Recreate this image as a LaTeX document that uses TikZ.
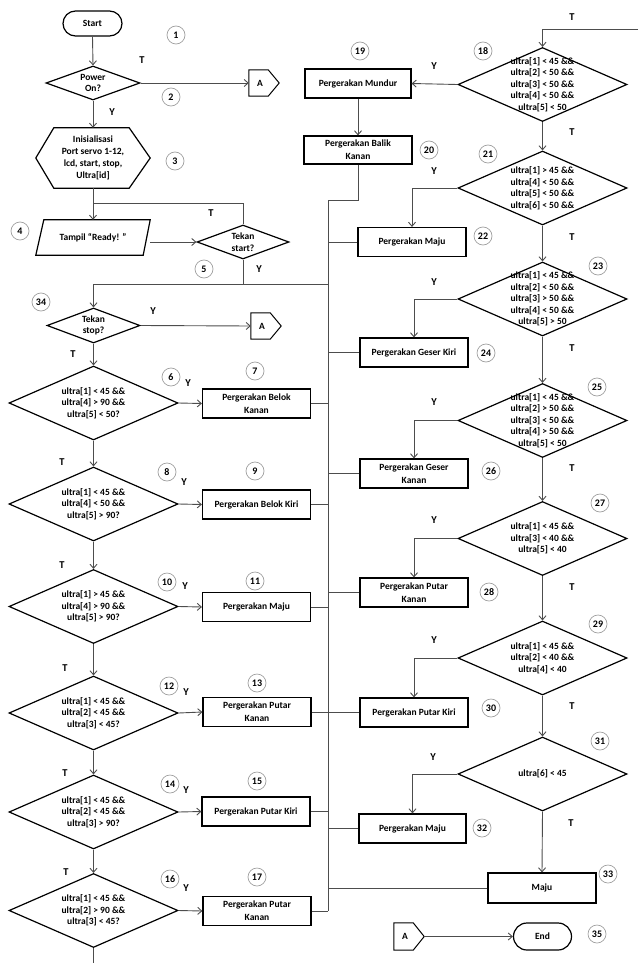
\documentclass[tikz,border=0pt]{standalone}
\usepackage{fontspec}
\setmainfont{Carlito}
\usetikzlibrary{arrows.meta,shapes.geometric}

\definecolor{wire}{HTML}{4D4D4D}
\definecolor{ringgray}{HTML}{A0A0A0}

\tikzset{
  txtbase/.style={font=\fontsize{9.5}{11.5}\selectfont\bfseries},
  edgeline/.style={draw=black, line width=1.2pt},
  box/.style={edgeline, minimum width=108pt, minimum height=29pt, inner sep=1pt,
    align=center, font=\fontsize{9.5}{13}\selectfont\bfseries},
  term/.style={txtbase, edgeline, rounded corners=12.5pt, minimum width=59pt,
    minimum height=25pt, inner sep=0pt},
  cond/.style={edgeline, diamond, minimum width=169pt, minimum height=74pt, inner sep=0pt},
  small cond/.style={edgeline, diamond, minimum width=93pt, minimum height=34pt, inner sep=0pt},
  condtext/.style={txtbase, align=center, inner sep=0pt},
  holder/.style={txtbase, minimum width=#1, inner sep=0pt, align=center},
  wireline/.style={draw=wire, line width=0.9pt},
  flow/.style={wireline, -{Straight Barb[length=4pt,width=7pt]}},
  branchtag/.style={font=\fontsize{10.5}{12}\selectfont\bfseries, inner sep=0pt},
  stepnum/.style={circle, draw=ringgray, line width=0.7pt, minimum size=18pt,
    inner sep=0pt, font=\fontsize{10}{12}\selectfont\bfseries},
}

\begin{document}
\begin{tikzpicture}[x=1pt, y=-1pt, line join=miter]
\useasboundingbox (0,0) rectangle (638,963);

% ---------------- left column: start-up ----------------
\node[term] (start) at (92.5,23.5) {Start};

\node[small cond, minimum width=94pt] (power) at (93,83) {};
\node[condtext] (powertxt) at (power) {Power\\On?};

\node[holder=114pt, minimum height=60pt, font=\fontsize{9.5}{12}\selectfont\bfseries]
  (init) at (93,158) {Inisialisasi\\Port servo 1-12,\\lcd, start, stop,\\Ultra[id]};
\draw[edgeline] (init.west) -- ([xshift=18pt]init.north west) -- ([xshift=-21pt]init.north east)
  -- (init.east) -- ([xshift=-21pt]init.south east) -- ([xshift=18pt]init.south west) -- cycle;

\node[holder=114pt, minimum height=35pt] (ready) at (93,237.5) {Tampil “Ready! ”};
\draw[edgeline] ([xshift=8pt]ready.north west) -- (ready.north east)
  -- ([xshift=-7pt]ready.south east) -- (ready.south west) -- cycle;

\node[small cond, minimum width=92pt] (tstart) at (243,242) {};
\node[condtext] (tstarttxt) at (tstart) {Tekan\\start?};

\node[small cond, minimum height=35pt] (tstop) at (93.5,325.5) {};
\node[condtext] (tstoptxt) at (tstop) {Tekan\\stop?};

% off-page connectors
\node[holder=22pt, minimum height=26pt] (offA1) at (260,83) {A};
\node[holder=22pt, minimum height=26pt] (offA2) at (262,326) {A};
\node[holder=22pt, minimum height=27pt] (offA3) at (405,936.5) {A};
\foreach \c in {offA1,offA2,offA3}
  \draw[edgeline, line width=1pt] (\c.north west) -- ([xshift=-3pt]\c.north east)
    -- ([xshift=8pt]\c.east) -- ([xshift=-3pt]\c.south east) -- (\c.south west) -- cycle;

\node[term, minimum width=58pt, minimum height=27pt, rounded corners=13.5pt] (finish) at (542.5,936.5) {End};

% ---------------- left column: decisions ----------------
\node[cond] (d6) at (93.5,403) {};
\node[condtext] (d6t) at (d6) {ultra[1] < 45 \&\&\\ultra[4] > 90 \&\&\\ultra[5] < 50?};
\node[cond] (d8) at (93.5,504) {};
\node[condtext] (d8t) at (d8) {ultra[1] < 45 \&\&\\ultra[4] < 50 \&\&\\ultra[5] > 90?};
\node[cond] (d10) at (93.5,606.5) {};
\node[condtext] (d10t) at (d10) {ultra[1] > 45 \&\&\\ultra[4] > 90 \&\&\\ultra[5] > 90?};
\node[cond] (d12) at (93.5,713) {};
\node[condtext] (d12t) at (d12) {ultra[1] < 45 \&\&\\ultra[2] < 45 \&\&\\ultra[3] < 45?};
\node[cond] (d14) at (93.5,812) {};
\node[condtext] (d14t) at (d14) {ultra[1] < 45 \&\&\\ultra[2] < 45 \&\&\\ultra[3] > 90?};
\node[cond] (d16) at (93.5,910.5) {};
\node[condtext] (d16t) at (d16) {ultra[1] < 45 \&\&\\ultra[2] > 90 \&\&\\ultra[3] < 45?};

\node[box] (b7) at (256.5,403.5) {Pergerakan Belok\\Kanan};
\node[box] (b9) at (256.5,504.5) {Pergerakan Belok Kiri};
\node[box] (b11) at (256.5,607) {Pergerakan Maju};
\node[box] (b13) at (257,712) {Pergerakan Putar\\Kanan};
\node[box] (b15) at (256,811.5) {Pergerakan Putar Kiri};
\node[box] (b17) at (257,911) {Pergerakan Putar\\Kanan};

% ---------------- right column ----------------
\node[cond] (d18) at (542.5,84.5) {};
\node[condtext] (d18t) at (d18) {ultra[1] < 45 \&\&\\ultra[2] < 50 \&\&\\ultra[3] < 50 \&\&\\ultra[4] < 50 \&\&\\ultra[5] < 50};
\node[cond] (d21) at (542.5,188) {};
\node[condtext] (d21t) at (d21) {ultra[1] > 45 \&\&\\ultra[4] < 50 \&\&\\ultra[5] < 50 \&\&\\ultra[6] < 50 \&\&};
\node[cond] (d23) at (542.5,299) {};
\node[condtext] (d23t) at (d23) {ultra[1] < 45 \&\&\\ultra[2] < 50 \&\&\\ultra[3] > 50 \&\&\\ultra[4] < 50 \&\&\\ultra[5] > 50};
\node[cond] (d25) at (542.5,420.5) {};
\node[condtext] (d25t) at (d25) {ultra[1] < 45 \&\&\\ultra[2] > 50 \&\&\\ultra[3] < 50 \&\&\\ultra[4] > 50 \&\&\\ultra[5] < 50};
\node[cond] (d27) at (542.5,538.5) {};
\node[condtext] (d27t) at (d27) {ultra[1] < 45 \&\&\\ultra[3] < 40 \&\&\\ultra[5] < 40};
\node[cond] (d29) at (542.5,658) {};
\node[condtext] (d29t) at (d29) {ultra[1] < 45 \&\&\\ultra[2] < 40 \&\&\\ultra[4] < 40};
\node[cond] (d31) at (542.5,774) {};
\node[condtext] (d31t) at (d31) {ultra[6] < 45};

\node[box, minimum width=106pt] (b19) at (358,83.5) {Pergerakan Mundur};
\node[box, minimum height=28pt] (b20) at (358,150) {Pergerakan Balik\\Kanan};
\node[box] (b22) at (412,242) {Pergerakan Maju};
\node[box] (b24) at (414,352.5) {Pergerakan Geser Kiri};
\node[box] (b26) at (414,473.5) {Pergerakan Geser\\Kanan};
\node[box] (b28) at (414,592.5) {Pergerakan Putar\\Kanan};
\node[box] (b30) at (414,712.5) {Pergerakan Putar Kiri};
\node[box, minimum width=107pt] (b32) at (412.5,828.5) {Pergerakan Maju};
\node[box, minimum height=30pt] (maju) at (542,888) {Maju};

% ---------------- connectors ----------------
\coordinate (loopT) at (93,203);
\coordinate (splitY) at (243,284);
\coordinate (bustop) at (328,200);
\coordinate (busbot) at (328,911);
\coordinate (inR) at (638,29);
\coordinate (leftout) at (93.5,963);

\draw[flow] (start.south) -- (power.north);
\draw[flow] (power.east) -- (offA1.west);
\draw[flow] (power.south) -- (init.north);
\draw[flow] (init.south) -- (ready.north);
\draw[wireline] (tstart.north) |- (loopT);
\draw[flow] (ready.east |- tstart.west) -- (tstart.west);
\draw[wireline] (tstart.south) -- (splitY);
\draw[flow] (splitY) -| (tstop.north);
\draw[wireline] (splitY) -- (splitY -| bustop);
\draw[flow] (tstop.east) -- (offA2.west);
\draw[flow] (tstop.south) -- (d6.north);
\draw[flow] (d6.south) -- (d8.north);
\draw[flow] (d8.south) -- (d10.north);
\draw[flow] (d10.south) -- (d12.north);
\draw[flow] (d12.south) -- (d14.north);
\draw[flow] (d14.south) -- (d16.north);
\draw[wireline] (d16.south) -- (leftout);
\foreach \d/\b in {d6/b7, d8/b9, d10/b11, d12/b13, d14/b15, d16/b17} {
  \draw[flow] (\d.east) -- (\b.west);
  \draw[wireline] (\b.east) -- (\b.east -| bustop);
}

% common return bus
\draw[wireline] (b20.south) |- (bustop) -- (busbot);

\draw[flow] (inR) -| (d18.north);
\draw[flow] (d18.west) -- (b19.east);
\draw[flow] (b19.south) -- (b20.north);
\draw[flow] (d18.south) -- (d21.north);
\draw[flow] (d21.south) -- (d23.north);
\draw[flow] (d23.south) -- (d25.north);
\draw[flow] (d25.south) -- (d27.north);
\draw[flow] (d27.south) -- (d29.north);
\draw[flow] (d29.south) -- (d31.north);
\draw[flow] (d31.south) -- (maju.north);
\foreach \d/\b in {d21/b22, d23/b24, d25/b26, d27/b28, d29/b30, d31/b32} {
  \draw[flow] (\d.west) -| (\b.north);
  \draw[wireline] (\b.west) -- (\b.west -| bustop);
}
\draw[wireline] (maju.west) -- (maju.west -| bustop);
\coordinate (a3tip) at ([xshift=8pt]offA3.east);
\draw[flow] (a3tip) -- (finish.west);

% ---------------- branch labels ----------------
\node[branchtag] (t1) at (142,60) {T};
\node[branchtag] (y1) at (112,112) {Y};
\node[branchtag] (t2) at (211,213) {T};
\node[branchtag] (y2) at (259,269) {Y};
\node[branchtag] (y3) at (153,311) {Y};
\node[branchtag] (t3) at (73,354) {T};
\node[branchtag] (y6) at (188,383) {Y};
\node[branchtag] (t8) at (62,462) {T};
\node[branchtag] (y8) at (184,482) {Y};
\node[branchtag] (t10) at (62,565) {T};
\node[branchtag] (y10) at (185,586) {Y};
\node[branchtag] (t12) at (65,668) {T};
\node[branchtag] (y12) at (186,692) {Y};
\node[branchtag] (t14) at (65,773) {T};
\node[branchtag] (y14) at (186,790) {Y};
\node[branchtag] (t16) at (66,872) {T};
\node[branchtag] (y16) at (186,888) {Y};
\node[branchtag] (t18in) at (572,17) {T};
\node[branchtag] (y18) at (434,66) {Y};
\node[branchtag] (t18) at (572,132) {T};
\node[branchtag] (y21) at (434,171) {Y};
\node[branchtag] (t21) at (572,237) {T};
\node[branchtag] (y23) at (434,282) {Y};
\node[branchtag] (t23) at (572,348) {T};
\node[branchtag] (y25) at (434,402) {Y};
\node[branchtag] (t25) at (572,468) {T};
\node[branchtag] (y27) at (434,520) {Y};
\node[branchtag] (t27) at (572,587) {T};
\node[branchtag] (y29) at (434,640) {Y};
\node[branchtag] (t29) at (572,706) {T};
\node[branchtag] (y31) at (433,757) {Y};
\node[branchtag] (t31) at (571,823) {T};

% ---------------- step numbers ----------------
\foreach \n/\x/\y in {1/176/35, 2/171/97, 3/175/161, 4/20/231, 5/204/269, 34/41/302,
  6/171/377, 7/255/371, 8/167/472, 9/255/471, 10/167/582, 11/255/581,
  12/169/686, 13/257/683, 14/170/784, 15/257/781, 16/170/879, 17/257/877,
  18/483/51, 19/360/51, 20/429/150, 21/488/154, 22/483/236, 23/598/266,
  24/486/353, 25/597/387, 26/491/471, 27/600/503, 28/489/592, 29/598/624,
  30/491/708, 31/600/741, 32/482/828, 33/608/874, 35/597/934}
  \node[stepnum] (n\n) at (\x,\y) {\n};

\end{tikzpicture}
\end{document}
